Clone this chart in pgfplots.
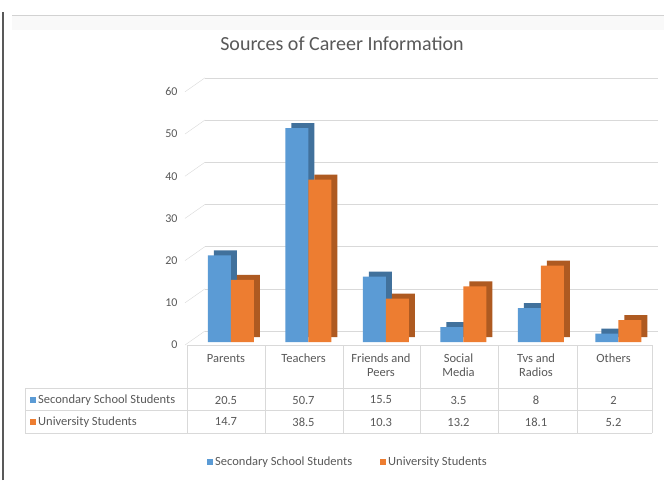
\documentclass[border=0pt]{standalone}
\usepackage{fontspec}
\setmainfont{Carlito}
\usepackage{pgfplots}
\pgfplotsset{compat=1.18}
\definecolor{sblue}{HTML}{5B9BD5}
\definecolor{sbluedk}{HTML}{41719C}
\definecolor{sorange}{HTML}{ED7D31}
\definecolor{sorangedk}{HTML}{AE5A21}
\definecolor{txt}{HTML}{595959}
\definecolor{gridc}{HTML}{D9D9D9}
\begin{document}
\begin{tikzpicture}[x=1pt,y=1pt]
\useasboundingbox (0,0) rectangle (664,480);
\fill[white] (0,0) rectangle (664,480);
\fill[gray!5] (12,450) rectangle (664,465);
\draw[gray!35] (12,465) -- (664,465);
\draw[gray!70!black, line width=1.5pt] (3,0) -- (3,468);
\node[text=txt, font=\fontsize{20}{24}\selectfont] at (342,436) {Sources of Career Information};
% back wall gridlines and side wall (behind the bars)
\foreach \v in {0,10,...,60} {
  \draw[gridc] (205,{149+4.22*\v}) -- (658,{149+4.22*\v});
  \draw[gridc] (185,{135+4.22*\v}) -- (205,{149+4.22*\v});
}
\begin{axis}[at={(187pt,135pt)}, anchor=south west, scale only axis,
  width=465pt, height=253.2pt, xmin=-0.5, xmax=5.5, ymin=0, ymax=60,
  clip=false, axis lines=left, axis line style={draw=none}, xtick=\empty,
  ytick={0,10,...,60}, major tick length=0pt, tick style={draw=none},
  yticklabel style={text=txt, font=\fontsize{12}{14}\selectfont, xshift=-6pt},
  /pgf/number format/assume math mode=true,
  ybar, bar width=23pt]
% Secondary School Students
\addplot[fill=sbluedk, draw=none, bar shift=-11.5pt, xshift=11pt, yshift=8pt, forget plot]
  coordinates {(0,20.5) (1,50.7) (2,15.5) (3,3.5) (4,8) (5,2)};
\addplot[fill=sblue, draw=none, bar shift=-11.5pt, xshift=5pt, yshift=3pt]
  coordinates {(0,20.5) (1,50.7) (2,15.5) (3,3.5) (4,8) (5,2)};
% University Students
\addplot[fill=sorangedk, draw=none, bar shift=11.5pt, xshift=11pt, yshift=8pt, forget plot]
  coordinates {(0,14.7) (1,38.5) (2,10.3) (3,13.2) (4,18.1) (5,5.2)};
\addplot[fill=sorange, draw=none, bar shift=11.5pt, xshift=5pt, yshift=3pt]
  coordinates {(0,14.7) (1,38.5) (2,10.3) (3,13.2) (4,18.1) (5,5.2)};
\end{axis}
% data table
\begin{scope}[gridc]
\draw (187,135) -- (652,135);
\draw (25,92) -- (652,92);
\draw (25,70) -- (652,70);
\draw (25,47) -- (652,47);
\draw (25,92) -- (25,47);
\foreach \xx in {187,265,343,420,498,577,652} \draw (\xx,135) -- (\xx,47);
\end{scope}
\begin{scope}[every node/.style={text=txt, font=\fontsize{12.5}{14}\selectfont, inner sep=0pt}]
\foreach \lab [count=\i from 0] in {Parents,Teachers,{Friends and\\Peers},{Social\\Media},{Tvs and\\Radios},Others}
  \node[anchor=north, align=center] at (226+77.5*\i,126) {\lab};
\foreach \v [count=\i from 0] in {20.5,50.7,15.5,3.5,8,2}
  \node at (226+77.5*\i,80) {\v};
\foreach \v [count=\i from 0] in {14.7,38.5,10.3,13.2,18.1,5.2}
  \node at (226+77.5*\i,58) {\v};
\fill[sblue] (30,77) rectangle (36,83);
\node[anchor=west] at (38,80) {Secondary School Students};
\fill[sorange] (30,55) rectangle (36,61);
\node[anchor=west] at (38,58) {University Students};
\fill[sblue] (207,15) rectangle (213,21);
\node[anchor=west] at (215,18) {Secondary School Students};
\fill[sorange] (380,15) rectangle (386,21);
\node[anchor=west] at (388,18) {University Students};
\end{scope}
\end{tikzpicture}
\end{document}
